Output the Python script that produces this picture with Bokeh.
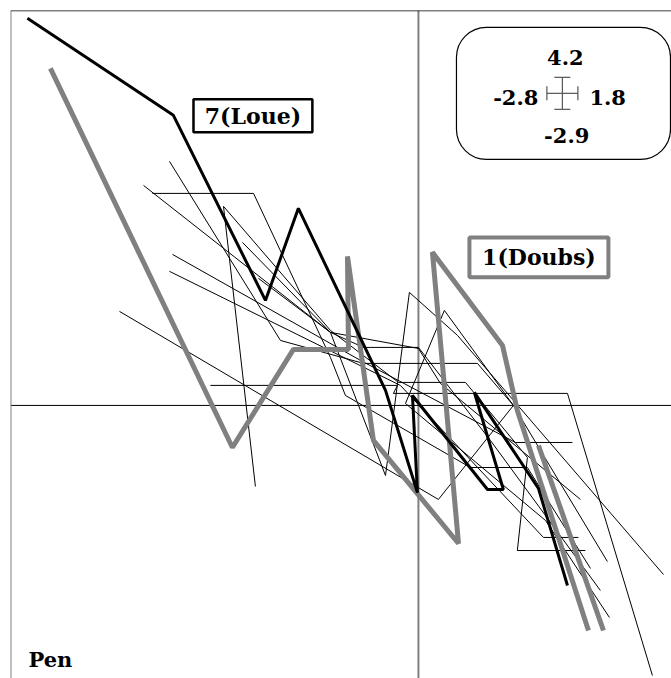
from bokeh.plotting import figure
from bokeh.models import Span, BoxAnnotation, Label, Range1d
from bokeh.embed import file_html
from bokeh.resources import INLINE

# ---- legend (range) values ----
leg_top, leg_left, leg_right, leg_bottom = "4.2", "-2.8", "1.8", "-2.9"
panel_name = "Pen"

# ---- highlighted rivers ----
doubs_x = [-2.526, -1.277, -0.858, -0.480, -0.487, -0.309, 0.275, 0.096, 0.577, 0.679, 1.167]
doubs_y = [3.585, -0.447, 0.596, 0.596, 1.585, -0.372, -1.468, 1.628, 0.638, -0.053, -2.394]
doubs2_x = [0.824, 1.270]
doubs2_y = [-0.426, -2.394]

loue_x = [-2.684, -1.682, -1.050, -0.824, -0.226, -0.007, -0.041, 0.474, 0.583, 0.384, 0.824, 1.023]
loue_y = [4.117, 3.085, 1.117, 2.096, 0.160, -0.926, 0.106, -0.894, -0.894, 0.138, -0.883, -1.915]

# ---- other rivers (thin) ----
r1_x = [-2.052, 0.137, 0.652, 0.178, -0.089, 0.872, 1.311]
r1_y = [1.000, -1.000, 0.000, 1.011, 0.021, -1.223, -2.255]
r2_x = [-1.826, -1.132, -0.604, -0.501, 0.357, 0.748, 1.181]
r2_y = [2.255, 2.255, 0.511, 0.106, -0.660, -0.660, -1.734]
r3_x = [-1.887, -0.604, 0.000, 0.151, 1.112]
r3_y = [2.340, 0.777, 0.606, 0.234, -1.000]
r4_x = [-1.709, -0.947, -0.377, 0.405, 0.652, 1.297]
r4_y = [2.596, 0.691, 0.447, 0.447, 0.000, -1.660]
r5_x = [-1.119, -1.338, -0.604, -0.137, 0.323, 0.748, 0.679, 1.146]
r5_y = [-0.862, 2.117, 0.798, 0.245, 0.245, -0.553, -1.543, -1.543]
r6_x = [-1.688, -0.398, 0.666, 1.057]
r6_y = [1.606, 0.479, -0.394, -0.394]
r7_x = [-1.709, -0.124, 0.858, 1.098]
r7_y = [1.426, 0.213, -1.404, -1.404]
r8_x = [-1.098, -0.604, -0.226, -0.062, 0.268, 1.682]
r8_y = [1.351, 0.777, -0.745, 1.202, 0.745, -1.798]
r9_x = [-1.428, -0.144, -0.172, 1.023, 1.606]
r9_y = [0.213, 0.213, 0.128, 0.128, -2.872]
r10_x = [-1.208, -0.604, -0.377, 0.000, 0.494, 1.249]
r10_y = [1.734, 0.777, 0.617, 0.617, -0.372, -1.968]

thin_xs = [r1_x, r2_x, r3_x, r4_x, r5_x, r6_x, r7_x, r8_x, r9_x, r10_x]
thin_ys = [r1_y, r2_y, r3_y, r4_y, r5_y, r6_y, r7_y, r8_y, r9_y, r10_y]

X0, X1 = -2.8, 1.737
Y0, Y1 = -2.904, 4.2

p = figure(width=671, height=678, output_backend="svg", toolbar_location=None,
           x_range=Range1d(X0, X1), y_range=Range1d(Y0, Y1),
           min_border_left=10, min_border_top=10, min_border_right=0, min_border_bottom=0)
p.axis.visible = False
p.grid.visible = False
p.outline_line_color = None
p.background_fill_color = "white"

# frame (top and left) and axes through origin
p.add_layout(Span(location=Y1, dimension="width", line_color="black", line_width=1.5))
p.add_layout(Span(location=X0, dimension="height", line_color="#808080", line_width=2))
p.add_layout(Span(location=0, dimension="height", line_color="#808080", line_width=2, level="underlay"))
p.add_layout(Span(location=0, dimension="width", line_color="black", line_width=1, level="underlay"))

p.multi_line(thin_xs, thin_ys, line_color="black", line_width=1)
p.line(doubs_x, doubs_y, line_color="#808080", line_width=5)
p.line(doubs2_x, doubs2_y, line_color="#808080", line_width=5)
p.line(loue_x, loue_y, line_color="black", line_width=3)

FONT = "DejaVu Serif"
# river labels
p.add_layout(BoxAnnotation(left=-1.544, right=-0.728, top=3.255, bottom=2.904,
                           fill_color="white", fill_alpha=1, line_color="black", line_alpha=1,
                           line_width=2.5))
p.add_layout(Label(x=-1.136, y=3.08, text="7(Loue)", text_align="center", text_baseline="middle",
                   text_font=FONT, text_font_size="22px", text_font_style="bold", text_color="black"))
p.add_layout(BoxAnnotation(left=0.350, right=1.304, top=1.787, bottom=1.362,
                           fill_color="white", fill_alpha=1, line_color="#808080", line_alpha=1,
                           line_width=4))
p.add_layout(Label(x=0.827, y=1.574, text="1(Doubs)", text_align="center", text_baseline="middle",
                   text_font=FONT, text_font_size="22px", text_font_style="bold", text_color="black"))

# panel name
p.add_layout(Label(x=-2.677, y=-2.70, text=panel_name, text_align="left", text_baseline="middle",
                   text_font=FONT, text_font_size="21px", text_font_style="bold", text_color="black"))

# range legend box
p.add_layout(BoxAnnotation(left=0.261, right=1.730, top=4.021, bottom=2.617, border_radius=30,
                           fill_color="white", fill_alpha=1, line_color="black", line_alpha=1,
                           line_width=1.2))
cx, cy = 0.988, 3.319
sx, sy = 1 / 145.7, 1 / 94.0
for txt, x, y, al in [(leg_top, cx + 0.02, cy + 36 * sy, "center"),
                      (leg_left, cx - 24 * sx, cy - 4 * sy, "right"),
                      (leg_right, cx + 27 * sx, cy - 4 * sy, "left"),
                      (leg_bottom, cx + 0.03, cy - 42 * sy, "center")]:
    p.add_layout(Label(x=x, y=y, text=txt, text_align=al, text_baseline="middle",
                       text_font=FONT, text_font_size="21px", text_font_style="bold", text_color="black"))

hx, hy = 15.5 * sx, 16 * sy
p.segment(x0=[cx - hx, cx, cx - hx, cx + hx, cx - 8 * sx, cx - 8 * sx],
          y0=[cy, cy - hy, cy - 7 * sy, cy - 7 * sy, cy + hy, cy - hy],
          x1=[cx + hx, cx, cx - hx, cx + hx, cx + 8 * sx, cx + 8 * sx],
          y1=[cy, cy + hy, cy + 7 * sy, cy + 7 * sy, cy + hy, cy - hy],
          line_color="#555555", line_width=1.2, level="overlay")

open("out.html", "w").write(file_html(p, INLINE))
